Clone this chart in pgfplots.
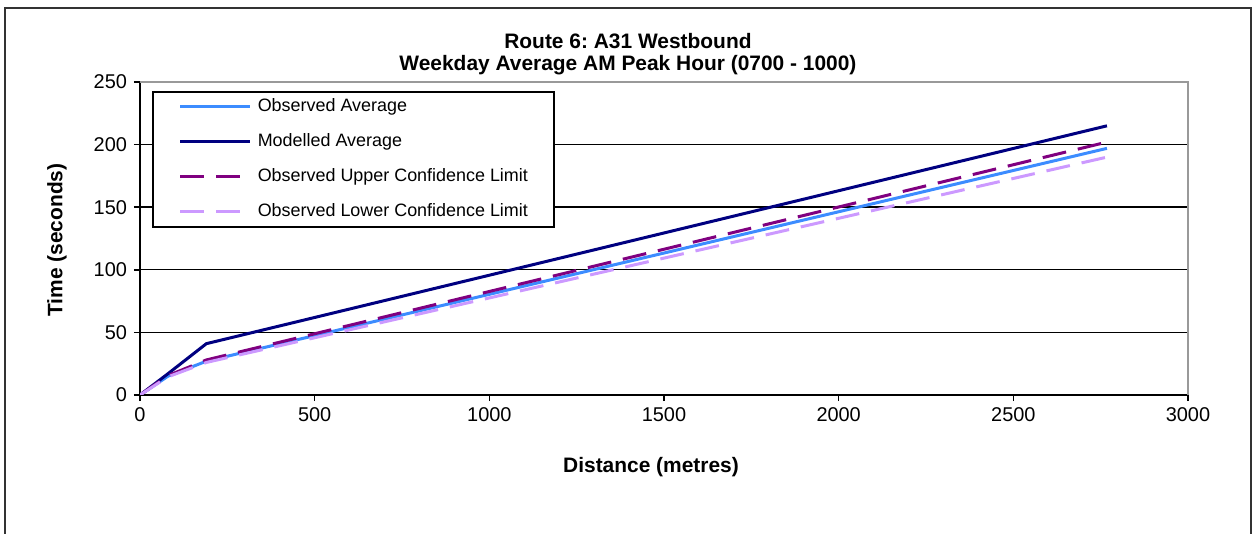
\documentclass[border=0pt]{standalone}
\usepackage{pgfplots}
\pgfplotsset{compat=1.18}
\usepackage{fontspec}
\setmainfont{Liberation Sans}
\frenchspacing
\definecolor{obsavg}{RGB}{60,140,255}
\definecolor{modavg}{RGB}{0,0,128}
\definecolor{upperc}{RGB}{128,0,128}
\definecolor{lowerc}{RGB}{204,153,255}
\begin{document}
\begin{tikzpicture}
\useasboundingbox (-70bp,-69.5bp) rectangle (557bp,197.5bp);
\draw[line width=1bp,black!80] (-67.5bp,-75bp) -- (-67.5bp,193.5bp) -- (555.5bp,193.5bp) -- (555.5bp,-75bp);
\begin{axis}[
  at={(0,0)}, anchor=south west,
  scale only axis, width=524bp, height=156.5bp,
  xmin=0, xmax=3000, ymin=0, ymax=250,
  xtick={0,500,...,3000}, ytick={0,50,...,250},
  axis x line*=bottom, axis y line*=left,
  axis line style={line width=1bp, black, -},
  tick align=outside, major tick length=3bp,
  tick style={line width=0.8bp, black},
  ymajorgrids, grid style={line width=0.7bp, black},
  ticklabel style={font=\fontsize{10}{12}\selectfont},
  /pgf/number format/assume math mode=true,
  scaled ticks=false,
  xticklabel style={/pgf/number format/1000 sep={}},
  xlabel={Distance (metres)},
  ylabel={Time (seconds)},
  label style={font=\bfseries\fontsize{10.5}{12}\selectfont},
  xlabel style={at={(axis description cs:0.4876,-0.23)}, anchor=center},
  ylabel style={at={(axis description cs:-0.0792,0.495)}, anchor=center, rotate=0},
  title={Route 6: A31 Westbound\\Weekday Average AM Peak Hour (0700 - 1000)},
  title style={at={(axis description cs:0.4656,1.051)}, anchor=center, align=center, font=\bfseries\fontsize{10.5}{11}\selectfont},
  legend cell align=left,
  legend style={at={(axis description cs:0.01145,0.9712)}, anchor=north west,
    draw=black, line width=0.8bp, fill=white,
    inner xsep=13bp, inner ysep=3bp,
    row sep=8.5bp, column sep=3bp,
    nodes={inner sep=0pt, text height=7bp, text depth=2bp},
    font=\fontsize{9}{10}\selectfont},
  legend image code/.code={\draw[#1] (0bp,0bp) -- (35bp,0bp);},
]
\addplot[obsavg, line width=1.5bp] coordinates {(0,0) (80,15) (190,27) (2768,197)};
\addlegendentry{Observed Average}
\addplot[modavg, line width=1.5bp] coordinates {(0,0) (80,17) (190,41) (2768,215)};
\addlegendentry{Modelled Average}
\addplot[upperc, line width=1.5bp, dash pattern=on 12bp off 6bp] coordinates {(0,0) (80,15.5) (190,28) (2768,202)};
\addlegendentry{Observed Upper Confidence Limit}
\addplot[lowerc, line width=1.5bp, dash pattern=on 12bp off 6bp] coordinates {(0,0) (80,14.5) (190,26) (2768,190)};
\addlegendentry{Observed Lower Confidence Limit}
\end{axis}
\draw[line width=1bp, black!40] (0,156.5bp) -- (524bp,156.5bp) -- (524bp,0);
\end{tikzpicture}
\end{document}
